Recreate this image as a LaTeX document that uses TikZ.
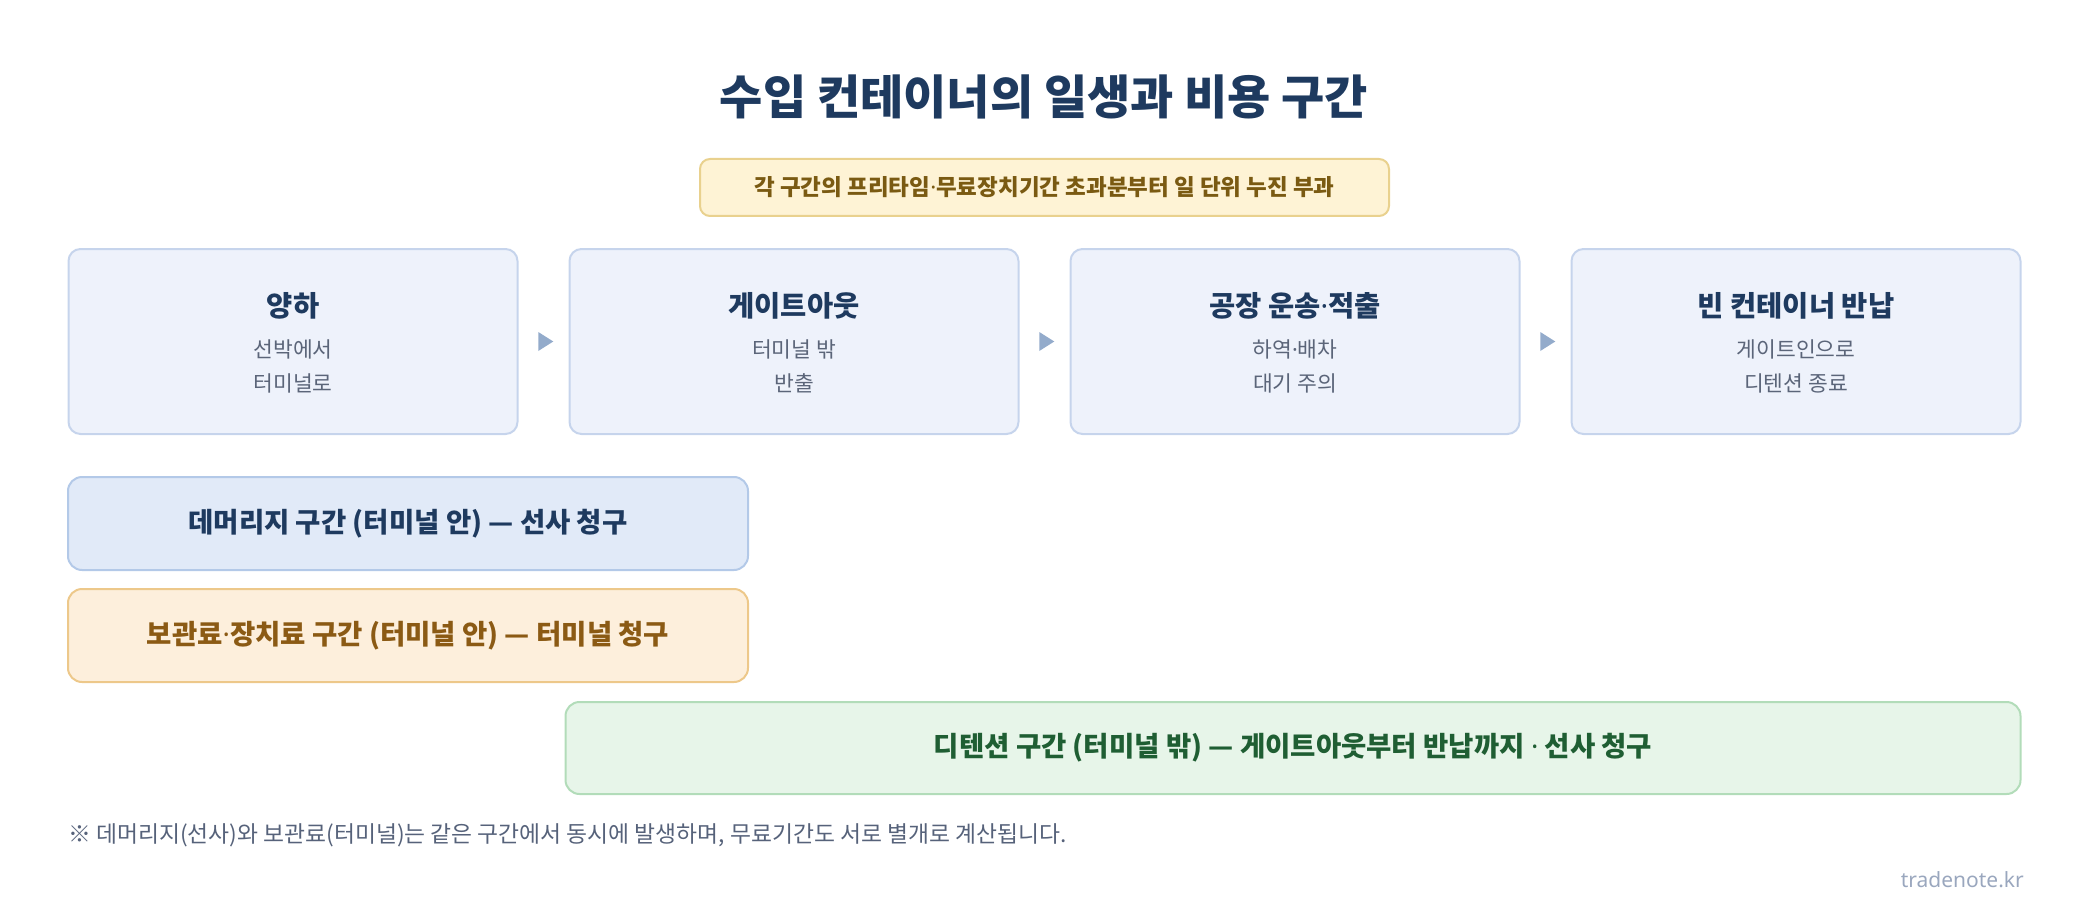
\documentclass[tikz,border=0pt]{standalone}
\usepackage{fontspec}
\setmainfont{Noto Sans CJK KR}
\newfontfamily\latinfont{Noto Sans}
\newcommand{\mdot}{{\latinfont ·}}
\usetikzlibrary{shapes.geometric,positioning}
\definecolor{navy}{HTML}{1E3A5F}
\definecolor{slate}{HTML}{5B6579}
\definecolor{stepfill}{HTML}{EEF2FB}
\definecolor{stepline}{HTML}{C6D4EC}
\definecolor{tipcol}{HTML}{93ABCB}
\definecolor{notefill}{HTML}{FEF3D5}
\definecolor{noteline}{HTML}{E9D18E}
\definecolor{notetext}{HTML}{7A5A12}
\definecolor{demfill}{HTML}{E1EAF8}
\definecolor{demline}{HTML}{B3C9E8}
\definecolor{stofill}{HTML}{FDEFDC}
\definecolor{stoline}{HTML}{EDC88A}
\definecolor{stotext}{HTML}{8B5A14}
\definecolor{detfill}{HTML}{E7F5E9}
\definecolor{detline}{HTML}{B2DCB9}
\definecolor{dettext}{HTML}{1F5E33}
\definecolor{foot}{HTML}{56627A}
\definecolor{mark}{HTML}{9AA7BE}

\begin{document}
\begin{tikzpicture}[x=1pt,y=-1pt]
\tikzstyle{stepbox}=[rectangle,rounded corners=12pt,line width=2pt,
draw=stepline,fill=stepfill,minimum width=449pt,minimum height=185pt,
node distance=501pt]
\tikzstyle{steptitle}=[inner sep=0pt,text=navy,font=\fontsize{28.5}{32}\selectfont\bfseries]
\tikzstyle{stepsub}=[inner sep=0pt,text=slate,align=center,
font=\fontsize{21.5}{34}\selectfont]
\tikzstyle{flowtip}=[isosceles triangle,isosceles triangle stretches,
fill=tipcol,inner sep=0pt,minimum height=15pt,minimum width=19pt]
\tikzstyle{band}=[rectangle,rounded corners=14pt,line width=2pt,
minimum height=93pt,font=\fontsize{27.5}{31}\selectfont\bfseries]
\useasboundingbox (0,0) rectangle (2088,912);

\node[text=navy,font=\fontsize{47}{52}\selectfont\bfseries] (title) at (1044,97)
{수입 컨테이너의 일생과 비용 구간};
\node[rectangle,rounded corners=10pt,line width=2pt,draw=noteline,fill=notefill,
minimum width=689pt,minimum height=57pt,text=notetext,
font=\fontsize{22.5}{26}\selectfont\bfseries] (rule) at (1044.5,187.5)
{각 구간의 프리타임\mdot 무료장치기간 초과분부터 일 단위 누진 부과};

% life of the box
\node[stepbox] at (293,341.5) (s1) {};
\node[stepbox,right of =s1] (s2) {};
\node[stepbox,right of =s2] (s3) {};
\node[stepbox,right of =s3] (s4) {};

\node[steptitle] at ([yshift=35.5pt]s1.center) (s1t) {양하};
\node[steptitle] at ([yshift=35.5pt]s2.center) (s2t) {게이트아웃};
\node[steptitle] at ([yshift=35.5pt]s3.center) (s3t) {공장 운송\mdot 적출};
\node[steptitle] at ([yshift=35.5pt]s4.center) (s4t) {빈 컨테이너 반납};

\node[stepsub] at ([yshift=-24.5pt]s1.center) (s1s) {선박에서\\터미널로};
\node[stepsub] at ([yshift=-24.5pt]s2.center) (s2s) {터미널 밖\\반출};
\node[stepsub] at ([yshift=-24.5pt]s3.center) (s3s) {하역\mdot 배차\\대기 주의};
\node[stepsub] at ([yshift=-24.5pt]s4.center) (s4s) {게이트인으로\\디텐션 종료};

\path (s1.east) -- (s2.west) node[midway,flowtip] (t12) {};
\path (s2.east) -- (s3.west) node[midway,flowtip] (t23) {};
\path (s3.east) -- (s4.west) node[midway,flowtip] (t34) {};

% cost bands
\node[band,draw=demline,fill=demfill,text=navy,minimum width=680pt]
at (408,523.5) (dem) {데머리지 구간 (터미널 안) — 선사 청구};
\node[band,draw=stoline,fill=stofill,text=stotext,minimum width=680pt]
at (408,635.5) (sto) {보관료\mdot 장치료 구간 (터미널 안) — 터미널 청구};
\node[band,draw=detline,fill=detfill,text=dettext,minimum width=1455pt,
minimum height=92pt] at (1293,748) (det)
{디텐션 구간 (터미널 밖) — 게이트아웃부터 반납까지 \mdot{} 선사 청구};

\node[anchor=west,inner sep=0pt,text=foot,font=\fontsize{22.8}{26}\selectfont]
at (68,835) (note)
{※ 데머리지(선사)와 보관료(터미널)는 같은 구간에서 동시에 발생하며, 무료기간도 서로 별개로 계산됩니다.};
\node[anchor=base east,inner sep=0pt,text=mark,font=\latinfont\fontsize{21}{24}\selectfont]
at (2024,887) (site) {tradenote.kr};

\end{tikzpicture}
\end{document}
